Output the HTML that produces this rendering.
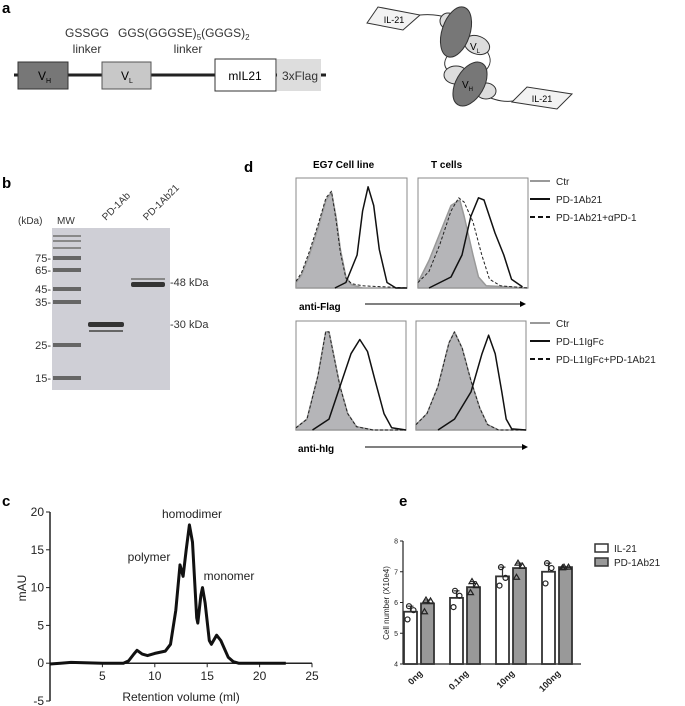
<!DOCTYPE html>
<html><head><meta charset="utf-8"><style>
body{margin:0;background:#fff}
svg{display:block;font-family:"Liberation Sans",Arial,sans-serif}
</style></head><body>
<svg id="fig" width="685" height="706" viewBox="0 0 685 706">
<!-- Panel a -->
<g>
<text x="2" y="13" font-size="15" font-weight="bold">a</text>
<text x="87" y="37" font-size="12" text-anchor="middle" fill="#333">GSSGG</text>
<text x="87" y="53" font-size="12" text-anchor="middle" fill="#333">linker</text>
<text x="118" y="37" font-size="12" fill="#333">GGS(GGGSE)<tspan font-size="8" dy="3">5</tspan><tspan dy="-3">(GGGS)</tspan><tspan font-size="8" dy="3">2</tspan></text>
<text x="188" y="53" font-size="12" text-anchor="middle" fill="#333">linker</text>
<line x1="14" y1="75" x2="326" y2="75" stroke="#222" stroke-width="3"/>
<rect x="18" y="62" width="50" height="27" fill="#777" stroke="#333"/>
<text x="38" y="80" font-size="12">V<tspan font-size="7" dy="3">H</tspan></text>
<rect x="102" y="62" width="49" height="27" fill="#c8c8c8" stroke="#555"/>
<text x="121" y="80" font-size="12">V<tspan font-size="7" dy="3">L</tspan></text>
<rect x="215" y="59" width="61" height="32" fill="#fff" stroke="#333"/>
<text x="245" y="80" font-size="12" text-anchor="middle">mIL21</text>
<rect x="277" y="59" width="44" height="32" fill="#ddd"/>
<text x="300" y="80" font-size="12" text-anchor="middle" fill="#333">3xFlag</text>
<!-- schematic -->
<g stroke="#333" stroke-width="1">
<path d="M420,15 C432,14 440,15 448,18" fill="none"/>
<path d="M448,55 C443,62 443,68 452,74" fill="none"/>
<path d="M486,50 C492,58 492,65 484,72" fill="none"/>
<path d="M488,97 C498,101 505,102 513,101" fill="none"/>
<polygon points="367,23 378,7 420,15 403,30" fill="#f2f2f2"/>
<text x="394" y="23" font-size="9" stroke="none" text-anchor="middle">IL-21</text>
<polygon points="512,102 527,87 572,94 557,109" fill="#f2f2f2"/>
<text x="542" y="102" font-size="9" stroke="none" text-anchor="middle">IL-21</text>
<ellipse cx="448" cy="21" rx="8" ry="8" fill="#ddd"/>
<ellipse cx="477" cy="45" rx="13" ry="9" fill="#ddd" transform="rotate(20 477 45)"/>
<ellipse cx="456" cy="32" rx="14" ry="26" fill="#777" transform="rotate(18 456 32)"/>
<text x="470" y="50" font-size="10" stroke="none">V<tspan font-size="6" dy="3">L</tspan></text>
<ellipse cx="456" cy="75" rx="12" ry="9" fill="#ddd"/>
<ellipse cx="486" cy="91" rx="10" ry="8" fill="#ddd"/>
<ellipse cx="470" cy="84" rx="14" ry="24" fill="#777" transform="rotate(30 470 84)"/>
<text x="462" y="88" font-size="10" stroke="none">V<tspan font-size="6" dy="3">H</tspan></text>
</g>
</g>
<!-- Panel b -->
<g>
<text x="2" y="188" font-size="15" font-weight="bold">b</text>
<text x="18" y="224" font-size="10" fill="#333">(kDa)</text>
<text x="57" y="224" font-size="10" fill="#333">MW</text>
<text transform="translate(106,221) rotate(-45)" font-size="10" fill="#333">PD-1Ab</text>
<text transform="translate(147,221) rotate(-45)" font-size="10" fill="#333">PD-1Ab21</text>
<rect x="52" y="228" width="118" height="162" fill="#cfcfd6"/>
<g id="mw"></g>
<rect x="88" y="322" width="36" height="5" fill="#333" rx="2"/>
<rect x="89" y="330" width="34" height="2" fill="#666"/>
<rect x="131" y="282" width="34" height="5" fill="#333" rx="2"/>
<rect x="131" y="278" width="34" height="2" fill="#888"/>
<text x="170" y="286" font-size="11" fill="#333">-48 kDa</text>
<text x="170" y="328" font-size="11" fill="#333">-30 kDa</text>
</g>
<!-- Panel d -->
<g id="pd">
<text x="244" y="172" font-size="15" font-weight="bold">d</text>
<text x="313" y="168" font-size="10" font-weight="bold">EG7 Cell line</text>
<text x="431" y="168" font-size="10" font-weight="bold">T cells</text>
<text x="299" y="310" font-size="10" font-weight="bold">anti-Flag</text>
<line x1="365" y1="304" x2="520" y2="304" stroke="#000"/>
<polygon points="520,301 526,304 520,307"/>
<text x="298" y="452" font-size="10" font-weight="bold">anti-hIg</text>
<line x1="365" y1="447" x2="522" y2="447" stroke="#000"/>
<polygon points="522,444 528,447 522,450"/>
<g font-size="10" fill="#222">
<line x1="530" y1="181" x2="550" y2="181" stroke="#999" stroke-width="2"/><text x="556" y="185">Ctr</text>
<line x1="530" y1="199" x2="550" y2="199" stroke="#111" stroke-width="2"/><text x="556" y="203">PD-1Ab21</text>
<line x1="530" y1="217" x2="550" y2="217" stroke="#111" stroke-width="2" stroke-dasharray="5,3"/><text x="556" y="221">PD-1Ab21+αPD-1</text>
</g>
<g font-size="10" fill="#222">
<line x1="530" y1="323" x2="550" y2="323" stroke="#999" stroke-width="2"/><text x="556" y="327">Ctr</text>
<line x1="530" y1="341" x2="550" y2="341" stroke="#111" stroke-width="2"/><text x="556" y="345">PD-L1IgFc</text>
<line x1="530" y1="359" x2="550" y2="359" stroke="#111" stroke-width="2" stroke-dasharray="5,3"/><text x="556" y="363">PD-L1IgFc+PD-1Ab21</text>
</g>
</g>
<!-- Panel c -->
<g id="pc">
<text x="2" y="506" font-size="15" font-weight="bold">c</text>
<text transform="translate(26,588) rotate(-90)" font-size="12" text-anchor="middle" fill="#222">mAU</text>
<text x="181" y="701" font-size="12" text-anchor="middle" fill="#222">Retention volume (ml)</text>
<text x="192" y="518" font-size="12" text-anchor="middle" fill="#222">homodimer</text>
<text x="149" y="561" font-size="12" text-anchor="middle" fill="#222">polymer</text>
<text x="229" y="580" font-size="12" text-anchor="middle" fill="#222">monomer</text>
</g>
<!-- Panel e -->
<g id="pe">
<text x="399" y="506" font-size="15" font-weight="bold">e</text>
<text transform="translate(389,603) rotate(-90)" font-size="8" text-anchor="middle" fill="#222">Cell number (X10e4)</text>
<rect x="595" y="544" width="13" height="8" fill="#fff" stroke="#333" stroke-width="1.5"/>
<text x="614" y="552" font-size="10" fill="#222">IL-21</text>
<rect x="595" y="558" width="13" height="8" fill="#999" stroke="#333" stroke-width="1.5"/>
<text x="614" y="566" font-size="10" fill="#222">PD-1Ab21</text>
</g>
</svg>
<script>
// ---- Panel b marker data
const mwLabels=["75","65","45","35","25","15"];
const mwY=[258,270,289,302,345,378];
// ---- Panel c data
const secX=[0,1,2,5,7,7.5,8,8.3,8.8,9.3,10,11,11.5,12,12.4,12.7,13,13.3,13.6,14,14.1,14.4,14.55,14.8,15.2,15.4,15.9,16.3,17,17.5,18,22.5];
const secY=[-0.1,0,0.1,0,0,0.3,1.2,1.7,1.2,1.0,1.3,1.6,2.5,7,13,11.5,15,18.3,16,6,5.3,9,10,8,3,2.5,3.7,3,0.8,0.2,0,0];
const secYTicks=[-5,0,5,10,15,20];
const secXTicks=[5,10,15,20,25];
// ---- Panel e data
const doseCats=["0ng","0.1ng","10ng","100ng"];
const il21Means=[5.7,6.15,6.85,7.0];
const pdMeans=[5.97,6.5,7.12,7.15];
const il21Pts=[[5.88,5.75,5.45],[6.38,6.22,5.85],[7.15,6.8,6.55],[7.28,7.12,6.62]];
const pdPts=[[6.08,6.05,5.7],[6.68,6.55,6.32],[7.28,7.18,6.82],[7.15,7.15,7.13]];
const eTicks=[4,5,6,7,8];
// ---- Panel d histogram data (x fraction, height fraction)
const hTLctrX=[0,0.05,0.12,0.2,0.27,0.32,0.36,0.4,0.45,0.5,0.6,1];
const hTLctrY=[0.05,0.12,0.3,0.55,0.8,0.87,0.65,0.35,0.1,0.03,0,0];
const hTLdashY=[0.06,0.14,0.33,0.58,0.82,0.88,0.62,0.32,0.09,0.04,0.02,0];
const hTLsolX=[0.35,0.45,0.55,0.6,0.65,0.7,0.75,0.82,0.9,1];
const hTLsolY=[0,0.05,0.3,0.7,0.92,0.75,0.35,0.05,0,0];
const hTRctrX=[0,0.1,0.2,0.3,0.38,0.42,0.5,0.55,0.62,1];
const hTRctrY=[0.05,0.25,0.5,0.75,0.8,0.65,0.3,0.1,0.02,0];
const hTRdashX=[0,0.1,0.2,0.3,0.37,0.42,0.5,0.58,0.65,0.75,1];
const hTRdashY=[0.05,0.15,0.4,0.7,0.82,0.78,0.6,0.3,0.08,0.02,0];
const hTRsolX=[0.1,0.3,0.4,0.48,0.55,0.6,0.7,0.78,0.85,0.95];
const hTRsolY=[0,0.1,0.3,0.65,0.82,0.8,0.5,0.3,0.08,0.01];
const hBLctrX=[0,0.1,0.2,0.27,0.3,0.35,0.4,0.47,0.55,0.7,1];
const hBLctrY=[0.02,0.1,0.5,0.9,0.9,0.65,0.4,0.15,0.03,0,0];
const hBLsolX=[0.15,0.3,0.4,0.5,0.58,0.65,0.72,0.8,0.87,1];
const hBLsolY=[0,0.1,0.4,0.7,0.83,0.72,0.45,0.15,0.02,0];
const hBRctrX=[0,0.1,0.2,0.3,0.35,0.42,0.5,0.58,0.65,0.75,1];
const hBRctrY=[0.05,0.15,0.4,0.8,0.9,0.75,0.45,0.2,0.05,0,0];
const hBRsolX=[0.2,0.35,0.5,0.6,0.66,0.72,0.78,0.82,0.87,1];
const hBRsolY=[0,0.1,0.35,0.7,0.87,0.7,0.35,0.1,0.01,0];

const NS="http://www.w3.org/2000/svg";
function mk(parent,tag,attrs){const e=document.createElementNS(NS,tag);for(const k in attrs)e.setAttribute(k,attrs[k]);parent.appendChild(e);return e;}

// Panel b
const mwG=document.getElementById('mw');
mwLabels.forEach((l,i)=>{
  const r=mk(mwG,'rect',{x:53,y:mwY[i]-2,width:28,height:4,fill:'#666'});
  
  
  const t=mk(mwG,'text',{x:51,y:mwY[i]+4,'font-size':11,'text-anchor':'end',fill:'#333'});
  t.textContent=l+'-';
  
  
});
[235,240,247].forEach(y=>mk(mwG,'rect',{x:53,y:y,width:28,height:2,fill:'#888'}));

// Panel c
const pc=document.getElementById('pc');
const cx0=50,cx1=312,cyTop=512,cyBot=701;
const xs=v=>cx0+(v/25)*(cx1-cx0);
const ys=v=>cyBot-((v+5)/25)*(cyBot-cyTop);
const ya=mk(pc,'line',{x1:cx0,y1:cyTop,x2:cx0,y2:cyBot,stroke:'#222','stroke-width':1.5});


const xa=mk(pc,'line',{x1:cx0,y1:ys(0),x2:cx1,y2:ys(0),stroke:'#222','stroke-width':1.5});


secYTicks.forEach(v=>{
  mk(pc,'line',{x1:cx0-4,y1:ys(v),x2:cx0,y2:ys(v),stroke:'#222'});
  const t=mk(pc,'text',{x:cx0-6,y:ys(v)+4,'font-size':12,'text-anchor':'end',fill:'#222'});t.textContent=v;
  
  
});
secXTicks.forEach(v=>{
  mk(pc,'line',{x1:xs(v),y1:ys(0),x2:xs(v),y2:ys(0)+4,stroke:'#222'});
  const t=mk(pc,'text',{x:xs(v),y:ys(0)+17,'font-size':12,'text-anchor':'middle',fill:'#222'});t.textContent=v;
  
  
});
const sp=mk(pc,'path',{d:secX.map((x,i)=>(i?'L':'M')+xs(x).toFixed(1)+','+ys(secY[i]).toFixed(1)).join(''),fill:'none',stroke:'#111','stroke-width':3,'stroke-linejoin':'round'});



// Panel d histograms
const pd=document.getElementById('pd');
function hist(box,name,curves){
  const [x0,y0,w,h]=box;
  const fr=mk(pd,'rect',{x:x0,y:y0,width:w,height:h,fill:'#fff',stroke:'#888'});
  
  
  curves.forEach(c=>{
    const pts=c.x.map((v,i)=>[x0+v*w,y0+h-c.y[i]*h]);
    let d='M'+pts.map(p=>p[0].toFixed(1)+','+p[1].toFixed(1)).join('L');
    if(c.fill)d='M'+x0+','+(y0+h)+'L'+pts.map(p=>p[0].toFixed(1)+','+p[1].toFixed(1)).join('L')+'L'+(x0+w)+','+(y0+h)+'Z';
    const p=mk(pd,'path',{d:d,fill:c.fill||'none',stroke:c.stroke,'stroke-width':c.sw||1.5,'stroke-dasharray':c.dash||'none','stroke-linejoin':'round'});
    
    
  });
}
hist([296,178,111,110],'hist-eg7-flag',[
 {n:'ctr',x:hTLctrX,y:hTLctrY,fill:'#b5b5b8',stroke:'#999'},
 {n:'blocked',x:hTLctrX,y:hTLdashY,stroke:'#222',dash:'3,2',sw:1},
 {n:'pd1ab21',x:hTLsolX,y:hTLsolY,stroke:'#111'}]);
hist([418,178,110,110],'hist-tcells-flag',[
 {n:'ctr',x:hTRctrX,y:hTRctrY,fill:'#b5b5b8',stroke:'#999'},
 {n:'blocked',x:hTRdashX,y:hTRdashY,stroke:'#222',dash:'3,2',sw:1},
 {n:'pd1ab21',x:hTRsolX,y:hTRsolY,stroke:'#111'}]);
hist([296,321,110,109],'hist-eg7-hig',[
 {n:'ctr',x:hBLctrX,y:hBLctrY,fill:'#b5b5b8',stroke:'#999'},
 {n:'blocked',x:hBLctrX,y:hBLctrY,stroke:'#222',dash:'3,2',sw:1},
 {n:'pdl1igfc',x:hBLsolX,y:hBLsolY,stroke:'#111'}]);
hist([416,321,110,109],'hist-tcells-hig',[
 {n:'ctr',x:hBRctrX,y:hBRctrY,fill:'#b5b5b8',stroke:'#999'},
 {n:'blocked',x:hBRctrX,y:hBRctrY,stroke:'#222',dash:'3,2',sw:1},
 {n:'pdl1igfc',x:hBRsolX,y:hBRsolY,stroke:'#111'}]);

// Panel e
const pe=document.getElementById('pe');
const ex0=403,ex1=581,eyTop=541,eyBot=664;
const ey=v=>eyBot-(v-4)/4*(eyBot-eyTop);
const gStep=46,bw=13,first=404;
const yae=mk(pe,'line',{x1:ex0,y1:eyTop,x2:ex0,y2:eyBot,stroke:'#222','stroke-width':1.2});


const xae=mk(pe,'line',{x1:ex0,y1:eyBot,x2:ex1,y2:eyBot,stroke:'#222','stroke-width':1.2});


eTicks.forEach(v=>{
  mk(pe,'line',{x1:ex0-3,y1:ey(v),x2:ex0,y2:ey(v),stroke:'#222'});
  const t=mk(pe,'text',{x:ex0-5,y:ey(v)+2.5,'font-size':7,'text-anchor':'end',fill:'#222'});t.textContent=v;
  
  
});
function bar(x,mean,pts,fill,name,tri){
  const top=ey(mean);
  mk(pe,'line',{x1:x+bw/2,y1:ey(Math.max(...pts)),x2:x+bw/2,y2:top,stroke:'#333','stroke-width':1.2});
  mk(pe,'line',{x1:x+bw/2-3,y1:ey(Math.max(...pts)),x2:x+bw/2+3,y2:ey(Math.max(...pts)),stroke:'#333','stroke-width':1.2});
  const r=mk(pe,'rect',{x:x,y:top,width:bw,height:eyBot-top,fill:fill,stroke:'#333','stroke-width':1.8});
  
  
  pts.forEach((v,i)=>{
    const px=x+bw/2+[-1,2,-2][i]*1.5,py=ey(v);
    const m=tri?mk(pe,'polygon',{points:`${px},${py-3} ${px+3},${py+2} ${px-3},${py+2}`,fill:'none',stroke:'#222','stroke-width':1.2})
             :mk(pe,'circle',{cx:px,cy:py,r:2.5,fill:'none',stroke:'#222','stroke-width':1.2});
    
    
  });
}
doseCats.forEach((c,i)=>{
  const gx=first+i*gStep;
  bar(gx,il21Means[i],il21Pts[i],'#fff','bar-il21-'+c,false);
  bar(gx+bw+4,pdMeans[i],pdPts[i],'#999','bar-pd1ab21-'+c,true);
  const cxp=gx+bw+2;
  const t=mk(pe,'text',{transform:`translate(${cxp+4},${eyBot+10}) rotate(-45)`,'font-size':9,'font-weight':'bold','text-anchor':'end',fill:'#222'});
  t.textContent=c;
  
  
});
</script>
</body></html>
